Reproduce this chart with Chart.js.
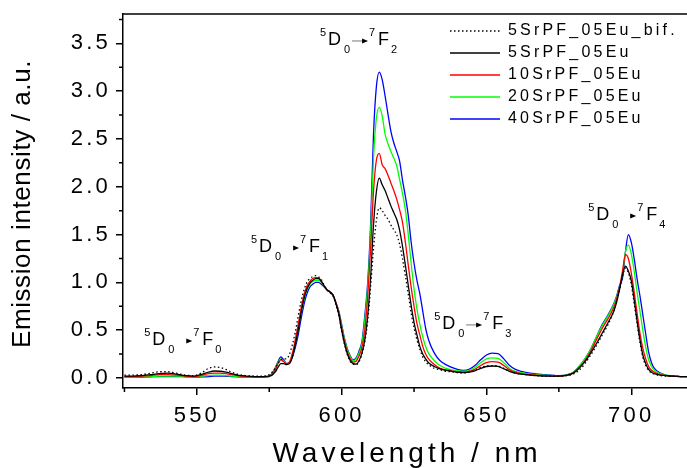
<!DOCTYPE html>
<html>
<head>
<meta charset="utf-8">
<script src="https://cdn.jsdelivr.net/npm/chart.js@4.4.0/dist/chart.umd.min.js"></script>
<style>
html, body { margin: 0; padding: 0; background: #fff; overflow: hidden; }
#wrap { width: 687px; height: 468px; }
</style>
</head>
<body>
<div id="wrap"><canvas id="chart" width="687" height="468"></canvas></div>
<script>
// wavelength grid (nm)
const wavelengths = [
  525, 528, 531, 534, 537, 540, 543, 546, 549, 552, 554, 556, 558, 560, 562, 564, 567, 570, 573,
  575,
  576, 577, 578, 579, 580, 581, 582, 583, 584, 585, 586, 587, 588, 589, 590, 591, 592, 593, 594, 595,
  596, 597, 598, 599, 600, 601, 602, 603, 604, 605, 606, 607, 608, 609, 610, 611, 612, 613, 614, 615,
  616, 617, 618, 619, 620, 621, 622, 623, 624, 625, 626, 627, 628, 629, 630,
  632, 634, 636, 638, 640, 642, 644, 646, 648, 650, 652, 654, 656, 658, 660, 662,
  665, 670, 675, 678,
  680, 682, 684, 686, 688, 690, 692, 694,
  695, 696, 697, 698, 699, 700, 701, 702, 703, 704, 705, 706, 707, 708,
  710, 712, 714, 717, 720
];

// emission intensity (a.u.)
const bif5 = [
  0.03, 0.03, 0.035, 0.05, 0.065, 0.065, 0.05, 0.03, 0.025, 0.06, 0.1, 0.115, 0.11, 0.09, 0.06, 0.04, 0.025, 0.02, 0.02,
  0.035,
  0.06, 0.1, 0.15, 0.19, 0.2, 0.2, 0.25, 0.35, 0.48, 0.65, 0.8, 0.92, 1.0, 1.04, 1.06, 1.07, 1.06, 1.03, 0.97, 0.92,
  0.89, 0.86, 0.77, 0.66, 0.49, 0.35, 0.24, 0.17, 0.145, 0.14, 0.17, 0.25, 0.38, 0.6, 0.95, 1.35, 1.65, 1.78, 1.75, 1.7,
  1.66, 1.6, 1.55, 1.5, 1.4, 1.25, 1.07, 0.88, 0.68, 0.52, 0.4, 0.3, 0.22, 0.17, 0.14,
  0.1, 0.085, 0.07, 0.065, 0.055, 0.05, 0.06, 0.08, 0.11, 0.125, 0.13, 0.125, 0.1, 0.07, 0.05, 0.04,
  0.03, 0.02, 0.02, 0.025,
  0.04, 0.08, 0.15, 0.24, 0.34, 0.45, 0.56, 0.7,
  0.8, 0.93, 1.06, 1.15, 1.1, 0.98, 0.78, 0.57, 0.37, 0.22, 0.13, 0.08, 0.05, 0.04,
  0.025, 0.02, 0.02, 0.015, 0.015
];
const sr5 = [
  0.02, 0.02, 0.025, 0.035, 0.045, 0.05, 0.04, 0.025, 0.02, 0.04, 0.06, 0.073, 0.07, 0.06, 0.045, 0.03, 0.02, 0.015, 0.015,
  0.02,
  0.03, 0.06, 0.11, 0.15, 0.15, 0.14, 0.15, 0.22, 0.35, 0.5, 0.68, 0.83, 0.93, 0.99, 1.02, 1.04, 1.04, 1.01, 0.96, 0.92,
  0.9, 0.87, 0.78, 0.67, 0.5, 0.36, 0.25, 0.18, 0.15, 0.145, 0.18, 0.26, 0.4, 0.65, 1.05, 1.6, 1.95, 2.09, 2.02, 1.96,
  1.88, 1.8, 1.73, 1.66, 1.55, 1.38, 1.18, 0.97, 0.76, 0.58, 0.45, 0.33, 0.25, 0.2, 0.16,
  0.12, 0.095, 0.08, 0.07, 0.06, 0.055, 0.06, 0.075, 0.1, 0.12, 0.125, 0.12, 0.095, 0.07, 0.05, 0.04,
  0.03, 0.02, 0.02, 0.03,
  0.05, 0.1, 0.17, 0.26, 0.36, 0.47, 0.58, 0.7,
  0.8, 0.93, 1.08, 1.17, 1.12, 1.02, 0.82, 0.6, 0.4, 0.24, 0.15, 0.09, 0.06, 0.045,
  0.03, 0.025, 0.02, 0.015, 0.015
];
const sr10 = [
  0.015, 0.015, 0.02, 0.025, 0.035, 0.035, 0.03, 0.02, 0.015, 0.03, 0.045, 0.05, 0.05, 0.045, 0.035, 0.025, 0.015, 0.01, 0.01,
  0.02,
  0.04, 0.08, 0.15, 0.19, 0.17, 0.15, 0.17, 0.26, 0.4, 0.56, 0.73, 0.87, 0.96, 1.01, 1.04, 1.05, 1.05, 1.01, 0.96, 0.92,
  0.9, 0.87, 0.79, 0.68, 0.52, 0.38, 0.27, 0.2, 0.165, 0.175, 0.23, 0.32, 0.5, 0.85, 1.35, 1.95, 2.28, 2.35, 2.23, 2.19,
  2.12, 2.04, 1.96, 1.87, 1.76, 1.63, 1.42, 1.18, 0.95, 0.75, 0.57, 0.45, 0.33, 0.25, 0.2,
  0.14, 0.1, 0.085, 0.075, 0.065, 0.06, 0.07, 0.09, 0.13, 0.16, 0.17, 0.165, 0.13, 0.085, 0.06, 0.045,
  0.035, 0.025, 0.02, 0.03,
  0.055, 0.11, 0.18, 0.28, 0.4, 0.52, 0.62, 0.74,
  0.83, 0.95, 1.12, 1.29, 1.25, 1.1, 0.9, 0.68, 0.47, 0.31, 0.2, 0.12, 0.08, 0.06,
  0.035, 0.025, 0.02, 0.015, 0.015
];
const sr20 = [
  0.01, 0.01, 0.015, 0.015, 0.02, 0.02, 0.02, 0.015, 0.01, 0.02, 0.025, 0.03, 0.03, 0.025, 0.02, 0.015, 0.01, 0.01, 0.01,
  0.02,
  0.045, 0.09, 0.16, 0.2, 0.18, 0.15, 0.16, 0.24, 0.36, 0.51, 0.68, 0.82, 0.92, 0.98, 1.01, 1.02, 1.02, 1.0, 0.96, 0.92,
  0.9, 0.87, 0.79, 0.69, 0.54, 0.4, 0.29, 0.22, 0.18, 0.2, 0.26, 0.36, 0.6, 0.95, 1.5, 2.3, 2.72, 2.83, 2.74, 2.55,
  2.45, 2.37, 2.3, 2.22, 2.08, 1.93, 1.76, 1.5, 1.2, 0.93, 0.72, 0.56, 0.43, 0.33, 0.26,
  0.18, 0.13, 0.1, 0.085, 0.075, 0.07, 0.08, 0.11, 0.16, 0.2, 0.21, 0.205, 0.16, 0.1, 0.07, 0.055,
  0.04, 0.03, 0.02, 0.035,
  0.06, 0.12, 0.2, 0.3, 0.43, 0.55, 0.65, 0.77,
  0.85, 0.95, 1.1, 1.32, 1.39, 1.3, 1.12, 0.9, 0.7, 0.5, 0.32, 0.19, 0.12, 0.08,
  0.045, 0.03, 0.02, 0.015, 0.015
];
const sr40 = [
  0.01, 0.01, 0.01, 0.012, 0.015, 0.015, 0.015, 0.012, 0.01, 0.012, 0.015, 0.02, 0.02, 0.018, 0.015, 0.012, 0.01, 0.01, 0.01,
  0.015,
  0.05, 0.1, 0.17, 0.22, 0.19, 0.15, 0.16, 0.22, 0.32, 0.45, 0.62, 0.77, 0.88, 0.95, 0.98, 1.0, 1.0, 0.98, 0.95, 0.92,
  0.9, 0.86, 0.79, 0.7, 0.56, 0.41, 0.3, 0.23, 0.19, 0.21, 0.28, 0.38, 0.65, 1.0, 1.6, 2.55, 3.05, 3.2, 3.12, 2.95,
  2.76, 2.58, 2.46, 2.37, 2.27, 2.07, 1.9, 1.7, 1.42, 1.2, 1.02, 0.88, 0.7, 0.52, 0.4,
  0.26, 0.18, 0.14, 0.11, 0.09, 0.08, 0.09, 0.13, 0.19, 0.24, 0.26, 0.255, 0.2, 0.13, 0.09, 0.07,
  0.05, 0.035, 0.025, 0.035,
  0.06, 0.12, 0.2, 0.3, 0.43, 0.56, 0.66, 0.78,
  0.86, 0.97, 1.05, 1.32, 1.5, 1.42, 1.25, 1.04, 0.86, 0.66, 0.46, 0.27, 0.16, 0.1,
  0.05, 0.03, 0.02, 0.015, 0.015
];

const seriesNames = ['5SrPF_05Eu_bif.', '5SrPF_05Eu', '10SrPF_05Eu', '20SrPF_05Eu', '40SrPF_05Eu'];
const xTicks = [550, 600, 650, 700];
const xMinorTicks = [525, 575, 625, 675];
const yTicks = [0, 0.5, 1.0, 1.5, 2.0, 2.5, 3.0, 3.5];
const yMinorTicks = [0.25, 0.75, 1.25, 1.75, 2.25, 2.75, 3.25, 3.75];

// Eu3+ transition labels: final 7F_J level, anchored at (nm, intensity)
const transitions = [
  { j: '0', nm: 534.6, value: 0.345, shaft: false },
  { j: '1', nm: 571.5, value: 1.318, shaft: false },
  { j: '2', nm: 595.3, value: 3.483, shaft: true },
  { j: '3', nm: 634.7, value: 0.513, shaft: true },
  { j: '4', nm: 687.9, value: 1.653, shaft: false }
];

const FONT = '"Liberation Sans", Arial, sans-serif';
Chart.defaults.font.family = FONT;
Chart.defaults.color = '#000';

function points(values) {
  return wavelengths.map((w, i) => ({ x: w, y: values[i] }));
}

function lineSet(label, values, color, dash) {
  return {
    label: label,
    data: points(values),
    borderColor: color,
    backgroundColor: color,
    borderWidth: 1.3,
    borderDash: dash || [],
    pointRadius: 0,
    cubicInterpolationMode: 'monotone',
    fill: false
  };
}

// draws frame line, minor ticks, axis titles and transition labels
const decorPlugin = {
  id: 'decor',
  beforeDraw(chart) {
    chart.ctx.letterSpacing = '3.2px';
  },
  afterLayout(chart) {
    const lg = chart.legend;
    lg.left = 444;
    lg.top = 17;
  },
  afterDraw(chart) {
    const ctx = chart.ctx;
    const area = chart.chartArea;
    const xs = chart.scales.x;
    const ys = chart.scales.y;
    ctx.save();
    ctx.letterSpacing = '0px';
    ctx.strokeStyle = '#000';
    ctx.lineWidth = 1.5;
    ctx.beginPath();
    ctx.moveTo(area.left, area.top);
    ctx.lineTo(area.right, area.top);
    xMinorTicks.forEach(v => {
      const px = xs.getPixelForValue(v);
      ctx.moveTo(px, area.bottom);
      ctx.lineTo(px, area.bottom + 4);
    });
    yMinorTicks.forEach(v => {
      const py = ys.getPixelForValue(v);
      ctx.moveTo(area.left - 4, py);
      ctx.lineTo(area.left, py);
    });
    ctx.stroke();

    // axis titles
    ctx.fillStyle = '#000';
    ctx.textAlign = 'center';
    ctx.textBaseline = 'alphabetic';
    ctx.font = '28px ' + FONT;
    ctx.letterSpacing = '4px';
    ctx.fillText('Wavelength / nm', (area.left + area.right) / 2 + 2, 462);
    ctx.save();
    ctx.translate(30, 204);
    ctx.rotate(-Math.PI / 2);
    ctx.font = '26px ' + FONT;
    ctx.letterSpacing = '0.6px';
    ctx.fillText('Emission intensity / a.u.', 0, 0);
    ctx.restore();

    // transition labels
    ctx.letterSpacing = '0px';
    ctx.textAlign = 'left';
    transitions.forEach(t => {
      const px = xs.getPixelForValue(t.nm);
      const py = ys.getPixelForValue(t.value);
      ctx.font = '11px ' + FONT;
      ctx.fillText('5', px - 8, py - 9);
      ctx.fillText('0', px + 16, py + 8);
      ctx.fillText('7', px + 41, py - 9);
      ctx.fillText(t.j, px + 63, py + 8);
      ctx.font = '18px ' + FONT;
      ctx.fillText('D', px, py);
      ctx.fillText('F', px + 50, py);
      if (t.shaft) {
        ctx.strokeStyle = '#777';
        ctx.lineWidth = 1;
        ctx.beginPath();
        ctx.moveTo(px + 24, py - 4);
        ctx.lineTo(px + 36, py - 4);
        ctx.stroke();
      }
      ctx.beginPath();
      ctx.moveTo(px + 34, py - 6.5);
      ctx.lineTo(px + 40, py - 4);
      ctx.lineTo(px + 34, py - 1.5);
      ctx.closePath();
      ctx.fill();
    });
    ctx.restore();
  }
};

const tickFont = { family: FONT, size: 22 };

new Chart(document.getElementById('chart'), {
  type: 'line',
  data: {
    datasets: [
      lineSet(seriesNames[0], bif5, '#000000', [1.5, 2.5]),
      lineSet(seriesNames[1], sr5, '#000000'),
      lineSet(seriesNames[2], sr10, '#ff0000'),
      lineSet(seriesNames[3], sr20, '#00ff00'),
      lineSet(seriesNames[4], sr40, '#0000ff')
    ]
  },
  options: {
    responsive: false,
    animation: false,
    layout: { padding: { top: 14, right: 0, left: 0, bottom: 0 } },
    plugins: {
      tooltip: { enabled: false },
      legend: {
        position: 'chartArea',
        align: 'start',
        labels: {
          usePointStyle: true,
          pointStyle: 'line',
          pointStyleWidth: 50,
          boxWidth: 50,
          padding: 6,
          color: '#000',
          font: { family: FONT, size: 16 },
          // keep the dotted pattern of the first series in its legend sample
          generateLabels: chart => Chart.defaults.plugins.legend.labels.generateLabels(chart)
            .map((item, i) => Object.assign(item, { lineDash: chart.data.datasets[i].borderDash }))
        }
      }
    },
    scales: {
      x: {
        type: 'linear',
        min: 524.5,
        max: 719.25,
        afterBuildTicks: s => { s.ticks = xTicks.map(v => ({ value: v })); },
        afterFit: s => { s.height = 80; s.paddingLeft = 0; s.paddingRight = 0; },
        grid: { drawOnChartArea: false, drawTicks: true, tickLength: 7, color: '#000', lineWidth: 1.5 },
        border: { display: true, color: '#000', width: 1.5 },
        ticks: { color: '#000', font: tickFont, padding: 8, maxRotation: 0, autoSkip: false, callback: v => String(v) }
      },
      y: {
        type: 'linear',
        min: -0.105,
        max: 3.807,
        afterBuildTicks: s => { s.ticks = yTicks.map(v => ({ value: v })); },
        afterFit: s => { s.width = 123; s.paddingTop = 0; s.paddingBottom = 0; },
        grid: { drawOnChartArea: false, drawTicks: true, tickLength: 7, color: '#000', lineWidth: 1.5 },
        border: { display: true, color: '#000', width: 1.5 },
        ticks: { color: '#000', font: tickFont, padding: 5, autoSkip: false, callback: v => v.toFixed(1) }
      }
    }
  },
  plugins: [decorPlugin]
});
</script>
</body>
</html>
